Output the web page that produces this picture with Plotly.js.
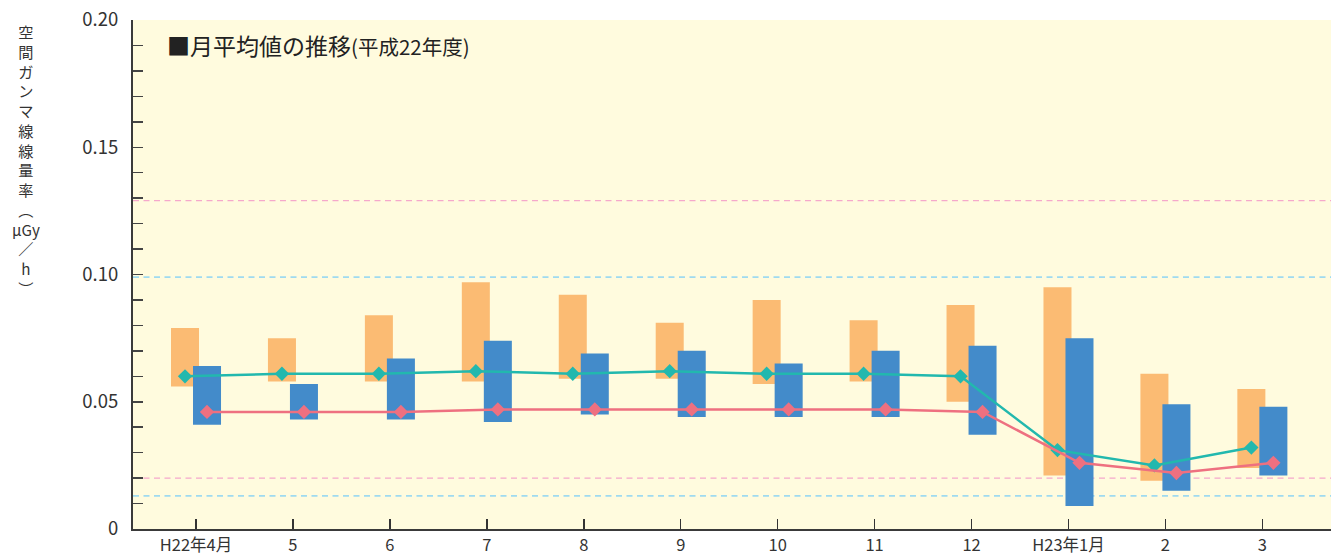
<!DOCTYPE html>
<html>
<head>
<meta charset="utf-8">
<script src="https://cdn.plot.ly/plotly-3.0.1.min.js"></script>
<style>
  html, body { margin: 0; padding: 0; background: #ffffff; }
  #chart { width: 1331px; height: 556px; }
</style>
</head>
<body>
<div id="chart"></div>
<script>
// ---- data ----
const monthLabels = ["H22年4月", "5", "6", "7", "8", "9", "10", "11", "12", "H23年1月", "2", "3"];
const orangeMax = [0.079, 0.075, 0.084, 0.097, 0.092, 0.081, 0.090, 0.082, 0.088, 0.095, 0.061, 0.055];
const orangeMin = [0.056, 0.058, 0.058, 0.058, 0.059, 0.059, 0.057, 0.058, 0.050, 0.021, 0.019, 0.024];
const blueMax   = [0.064, 0.057, 0.067, 0.074, 0.069, 0.070, 0.065, 0.070, 0.072, 0.075, 0.049, 0.048];
const blueMin   = [0.041, 0.043, 0.043, 0.042, 0.045, 0.044, 0.044, 0.044, 0.037, 0.009, 0.015, 0.021];
const tealAvg   = [0.060, 0.061, 0.061, 0.062, 0.061, 0.062, 0.061, 0.061, 0.060, 0.031, 0.025, 0.032];
const pinkAvg   = [0.046, 0.046, 0.046, 0.047, 0.047, 0.047, 0.047, 0.047, 0.046, 0.026, 0.022, 0.026];
const pinkRefLines = [0.129, 0.020];
const blueRefLines = [0.099, 0.013];
const yTickValues = [0, 0.01, 0.02, 0.03, 0.04, 0.05, 0.06, 0.07, 0.08, 0.09, 0.10, 0.11, 0.12, 0.13, 0.14, 0.15, 0.16, 0.17, 0.18, 0.19, 0.20];
const yTickLabels = ["0", "", "", "", "", "0.05", "", "", "", "", "0.10", "", "", "", "", "0.15", "", "", "", "", "0.20"];
const titleMain = "■月平均値の推移";
const titleSub = "(平成22年度)";
const yTitleLines = ["空", "間", "ガ", "ン", "マ", "線", "線", "量", "率", "︵", "μGy", "／", "h", "︶"];

// ---- layout geometry ----
const W = 1331, H = 556;
const M = {l: 133, r: 0, t: 20, b: 27};
const PW = W - M.l - M.r, PH = H - M.t - M.b;
const px2xp = x => (x - M.l) / PW;
const px2yp = y => (H - M.b - y) / PH;

const idx = monthLabels.map((_, i) => i);
const barW = 0.289, shift = 0.1135;
const FONT = '"Noto Sans CJK JP", "Noto Sans", sans-serif';

const traces = [
  {
    type: 'bar', x: idx, base: orangeMin,
    y: orangeMax.map((v, i) => v - orangeMin[i]),
    width: barW, offset: -shift - barW / 2,
    marker: {color: '#FBBB73', line: {width: 0}},
    hoverinfo: 'skip', showlegend: false
  },
  {
    type: 'bar', x: idx, base: blueMin,
    y: blueMax.map((v, i) => v - blueMin[i]),
    width: barW, offset: shift - barW / 2,
    marker: {color: '#438BCA', line: {width: 0}},
    hoverinfo: 'skip', showlegend: false
  },
  {
    type: 'scatter', mode: 'lines+markers',
    x: idx.map(i => i - shift), y: tealAvg,
    line: {color: '#22B8AE', width: 2.5},
    marker: {symbol: 'diamond', size: 11, color: '#22B8AE'},
    hoverinfo: 'skip', showlegend: false
  },
  {
    type: 'scatter', mode: 'lines+markers',
    x: idx.map(i => i + shift), y: pinkAvg,
    line: {color: '#EE7080', width: 2.5},
    marker: {symbol: 'diamond', size: 11, color: '#EE7080'},
    hoverinfo: 'skip', showlegend: false
  }
];

const shapes = [];
pinkRefLines.forEach(v => shapes.push({
  type: 'line', xref: 'paper', x0: 0, x1: 1, yref: 'y', y0: v, y1: v, layer: 'below',
  line: {color: '#F5A8CB', width: 1.2, dash: '6px,4.5px'}
}));
blueRefLines.forEach(v => shapes.push({
  type: 'line', xref: 'paper', x0: 0, x1: 1, yref: 'y', y0: v, y1: v, layer: 'below',
  line: {color: '#9FDAF0', width: 1.8, dash: '6px,4.5px'}
}));

const annotations = [];
annotations.push({
  xref: 'paper', yref: 'paper', x: px2xp(165), y: px2yp(45),
  xanchor: 'left', yanchor: 'middle', showarrow: false,
  text: titleMain + '<span style="font-size:20.5px">' + titleSub + '</span>',
  font: {family: FONT, size: 23, color: '#222222'}
});
// stacked vertical axis title as one text block
const yTitleSize = 15.2;
const yTitleStep = yTitleSize * 1.3;
annotations.push({
  xref: 'paper', yref: 'paper', x: px2xp(26),
  y: px2yp(31 + (yTitleLines.length - 1) / 2 * yTitleStep),
  xanchor: 'center', yanchor: 'middle', showarrow: false, align: 'center',
  text: yTitleLines.join('<br>'),
  font: {family: FONT, size: yTitleSize, color: '#333333'}
});

const layout = {
  width: W, height: H,
  margin: M,
  paper_bgcolor: '#ffffff',
  plot_bgcolor: '#FFFBDE',
  barmode: 'overlay',
  showlegend: false,
  font: {family: FONT, color: '#333333'},
  xaxis: {
    range: [-0.65, 11.708],
    tickmode: 'array', tickvals: idx, ticktext: monthLabels,
    ticks: 'inside', ticklen: 10, tickwidth: 1.5, tickcolor: '#333333',
    showline: true, linewidth: 2, linecolor: '#3a3a3a',
    showgrid: false, zeroline: false,
    tickfont: {family: FONT, size: 16.5, color: '#333333'},
    ticklabelstandoff: 0,
    fixedrange: true
  },
  yaxis: {
    range: [0, 0.2],
    tickmode: 'array', tickvals: yTickValues, ticktext: yTickLabels,
    ticks: 'inside', ticklen: 10, tickwidth: 1.5, tickcolor: '#444444',
    showline: true, linewidth: 2, linecolor: '#3a3a3a',
    showgrid: false, zeroline: false,
    tickfont: {family: FONT, size: 18.5, color: '#333333'},
    ticklabelstandoff: 9,
    fixedrange: true
  },
  shapes: shapes,
  annotations: annotations
};

Plotly.newPlot('chart', traces, layout, {displayModeBar: false, staticPlot: true});
</script>
</body>
</html>
